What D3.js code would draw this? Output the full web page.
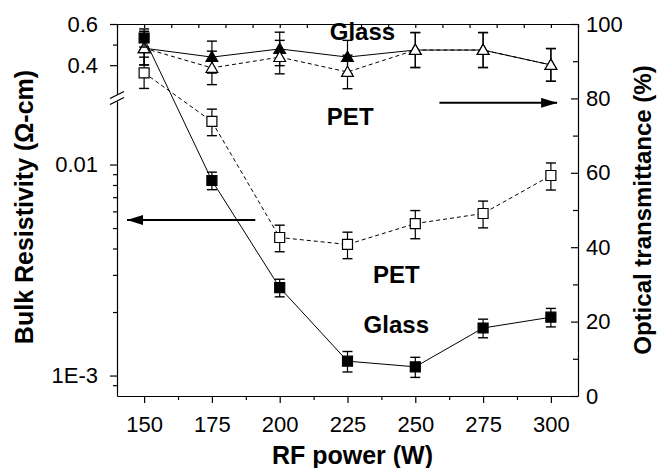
<!DOCTYPE html>
<html>
<head>
<meta charset="utf-8">
<script src="https://cdn.jsdelivr.net/npm/d3@7"></script>
<style>
	body { margin: 0; background: #fff; }
	svg { display: block; font-family: "Liberation Sans", Arial, sans-serif; }
	.axis path, .axis line { stroke: #000; stroke-width: 1.2; }
	.axis text { font-size: 22px; fill: #000; }
</style>
</head>
<body>
<div id="chart"></div>
<script>
// RF power (W)
var power = [150, 175, 200, 225, 250, 275, 300];

// bulk resistivity (ohm-cm) with error
var resGlass = [0.532, 0.0084, 0.00261, 0.00117, 0.0011, 0.00168, 0.00189];
var resGlassErr = [0.044, 0.0008, 0.00025, 0.00013, 0.00012, 0.00017, 0.00019];
var resPet = [0.363, 0.016, 0.00451, 0.00418, 0.00525, 0.00586, 0.00887];
var resPetErr = [0.076, 0.0023, 0.00065, 0.0006, 0.0008, 0.00085, 0.0013];

// optical transmittance (%) with error
var transGlass = [93.5, 91.1, 93.3, 91.1, 93, 93, 89];
var transGlassErr = [4.5, 4.3, 4.5, 4.5, 4.7, 4.7, 4.4];
var transPet = [93.5, 88.2, 91.1, 87.1, 93, 93, 89];
var transPetErr = [4.5, 4.5, 4.5, 4.5, 4.7, 4.7, 4.4];

// tick labels
var xTicks = [150, 175, 200, 225, 250, 275, 300];
var resTicksUp = [0.4, 0.6];
var resTicksLo = [0.001, 0.01];
var transTicks = [0, 20, 40, 60, 80, 100];

var W = 658, H = 468;
var pLeft = 117, pRight = 578, pTop = 24, pBottom = 396;

var svg = d3.select("#chart").append("svg")
	.attr("width", W)
	.attr("height", H);

var x = d3.scaleLinear().domain([140, 310]).range([pLeft, pRight]);
var yUp = d3.scaleLinear().domain([0.26, 0.6]).range([94, pTop]);
var yLo = d3.scaleLog().domain([0.0008, 0.02]).range([pBottom, 101]);
var yT = d3.scaleLinear().domain([0, 100]).range([pBottom, pTop]);

function yRes(v) {
	return v >= 0.1 ? yUp(v) : yLo(v);
}

// ---- axes ----
svg.append("g").attr("class", "axis")
	.attr("transform", "translate(0," + pBottom + ")")
	.call(d3.axisBottom(x).tickValues(xTicks).tickSize(7).tickSizeOuter(0).tickPadding(13));
svg.append("g").attr("class", "axis")
	.attr("transform", "translate(0," + pBottom + ")")
	.call(d3.axisBottom(x).tickValues(d3.range(162.5, 300, 25)).tickSize(4).tickFormat(""))
	.select(".domain").remove();

// top frame, ticks every 10 W pointing in
svg.append("g").attr("class", "axis")
	.attr("transform", "translate(0," + pTop + ")")
	.call(d3.axisBottom(x).tickValues(d3.range(140, 311, 10)).tickSize(4).tickSizeOuter(0).tickFormat(""));

// left broken axis
svg.append("g").attr("class", "axis")
	.attr("transform", "translate(" + pLeft + ",0)")
	.call(d3.axisLeft(yUp).tickValues(resTicksUp).tickSize(7).tickSizeOuter(0).tickPadding(12)
		.tickFormat(d3.format(".1f")));
svg.append("g").attr("class", "axis")
	.attr("transform", "translate(" + pLeft + ",0)")
	.call(d3.axisLeft(yUp).tickValues([0.5]).tickSize(4).tickFormat(""))
	.select(".domain").remove();
svg.append("g").attr("class", "axis")
	.attr("transform", "translate(" + pLeft + ",0)")
	.call(d3.axisLeft(yLo).tickValues(resTicksLo).tickSize(7).tickSizeOuter(0).tickPadding(12)
		.tickFormat(function(d) { return d == 0.001 ? "1E-3" : "0.01"; }));
svg.append("g").attr("class", "axis")
	.attr("transform", "translate(" + pLeft + ",0)")
	.call(d3.axisLeft(yLo)
		.tickValues([0.0009, 0.002, 0.003, 0.004, 0.005, 0.006, 0.007, 0.008, 0.009])
		.tickSize(4).tickFormat(""))
	.select(".domain").remove();

// break marks
[95, 101].forEach(function(yy) {
	svg.append("line")
		.attr("x1", pLeft - 7).attr("y1", yy + 3.5)
		.attr("x2", pLeft + 7).attr("y2", yy - 3.5)
		.attr("stroke", "#000").attr("stroke-width", 1.3);
});

// right axis
svg.append("g").attr("class", "axis")
	.attr("transform", "translate(" + pRight + ",0)")
	.call(d3.axisRight(yT).tickValues(transTicks).tickSize(-7).tickSizeOuter(0).tickPadding(8));
svg.append("g").attr("class", "axis")
	.attr("transform", "translate(" + pRight + ",0)")
	.call(d3.axisRight(yT).tickValues([10, 30, 50, 70, 90]).tickSize(-5).tickFormat(""))
	.select(".domain").remove();

// axis titles
svg.append("text")
	.attr("x", (pLeft + pRight) / 2 + 5)
	.attr("y", 464)
	.attr("text-anchor", "middle")
	.style("font-size", "25px").style("font-weight", "bold")
	.text("RF power (W)");
svg.append("text")
	.attr("transform", "translate(33,207) rotate(-90)")
	.attr("text-anchor", "middle")
	.style("font-size", "25px").style("font-weight", "bold")
	.text("Bulk Resistivity (\u03A9-cm)");
svg.append("text")
	.attr("transform", "translate(651,210) rotate(-90)")
	.attr("text-anchor", "middle")
	.style("font-size", "24px").style("font-weight", "bold")
	.text("Optical transmittance (%)");

// ---- series ----
function series(vals, errs, yf, dashed, shape, filled) {
	var pts = power.map(function(p, i) { return {x: p, v: vals[i], e: errs[i]}; });
	var g = svg.append("g");

	g.append("path")
		.datum(pts)
		.attr("fill", "none")
		.attr("stroke", "#000")
		.attr("stroke-width", 1)
		.attr("stroke-dasharray", dashed ? "4,3" : null)
		.attr("d", d3.line().x(function(d) { return x(d.x); }).y(function(d) { return yf(d.v); }));

	var eb = g.selectAll(".eb").data(pts).enter().append("g");
	eb.append("line")
		.attr("x1", function(d) { return x(d.x); })
		.attr("x2", function(d) { return x(d.x); })
		.attr("y1", function(d) { return yf(d.v + d.e); })
		.attr("y2", function(d) { return yf(d.v - d.e); })
		.attr("stroke", "#000").attr("stroke-width", 1.2);
	[1, -1].forEach(function(s) {
		eb.append("line")
			.attr("x1", function(d) { return x(d.x) - 5; })
			.attr("x2", function(d) { return x(d.x) + 5; })
			.attr("y1", function(d) { return yf(d.v + s * d.e); })
			.attr("y2", function(d) { return yf(d.v + s * d.e); })
			.attr("stroke", "#000").attr("stroke-width", 1.4);
	});

	var sym = d3.symbol().type(shape).size(shape == d3.symbolSquare ? 100 : 60);
	g.selectAll(".pt").data(pts).enter().append("path")
		.attr("transform", function(d) {
			var dy = shape == d3.symbolTriangle ? 1 : 0;
			return "translate(" + x(d.x) + "," + (yf(d.v) + dy) + ")";
		})
		.attr("d", sym)
		.attr("fill", filled ? "#000" : "#fff")
		.attr("stroke", "#000")
		.attr("stroke-width", 1.2);
}

series(transGlass, transGlassErr, yT, false, d3.symbolTriangle, true);
series(transPet, transPetErr, yT, true, d3.symbolTriangle, false);
series(resPet, resPetErr, yRes, true, d3.symbolSquare, false);
series(resGlass, resGlassErr, yRes, false, d3.symbolSquare, true);

// ---- annotations ----
var labels = [
	{t: "Glass", x: 230.5, y: 40},
	{t: "PET", x: 226, y: 125},
	{t: "PET", x: 243, y: 283},
	{t: "Glass", x: 243, y: 333}
];
labels.forEach(function(l) {
	svg.append("text")
		.attr("x", x(l.x))
		.attr("y", l.y)
		.attr("text-anchor", "middle")
		.style("font-size", "24px").style("font-weight", "bold")
		.text(l.t);
});

svg.append("defs").append("marker")
	.attr("id", "head")
	.attr("viewBox", "0 0 16 10")
	.attr("refX", 16).attr("refY", 5)
	.attr("markerWidth", 16).attr("markerHeight", 10)
	.attr("markerUnits", "userSpaceOnUse")
	.attr("orient", "auto")
	.append("path")
	.attr("d", "M0,0 L16,5 L0,10 Z")
	.attr("fill", "#000");

var arrows = [
	{x1: 191, x2: 143.7, y: 47.3},
	{x1: 258.9, x2: 302.3, y: 78.8}
];
arrows.forEach(function(a) {
	svg.append("line")
		.attr("x1", x(a.x1)).attr("x2", x(a.x2))
		.attr("y1", yT(a.y)).attr("y2", yT(a.y))
		.attr("stroke", "#000").attr("stroke-width", 2)
		.attr("marker-end", "url(#head)");
});
</script>
</body>
</html>
